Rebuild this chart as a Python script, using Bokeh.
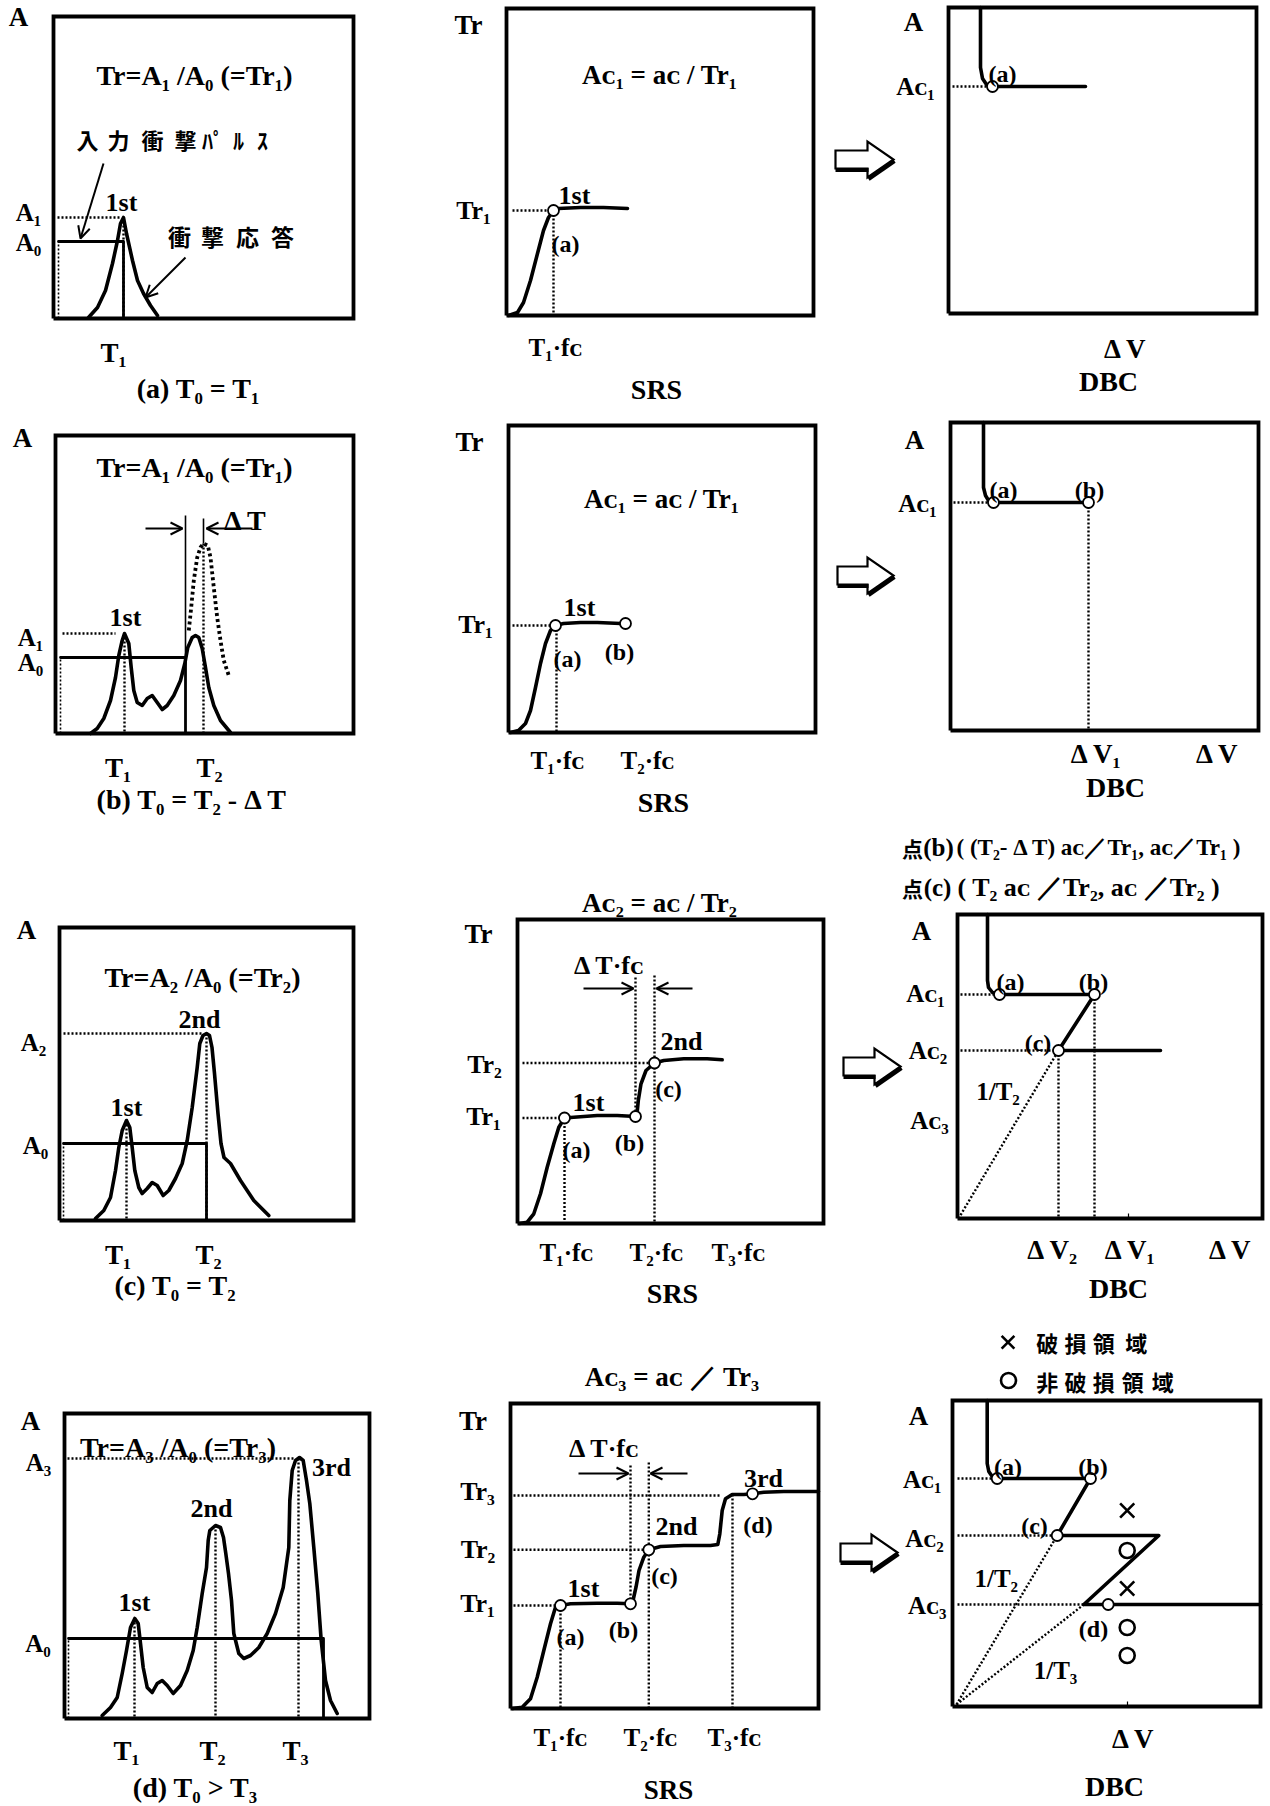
from bokeh.plotting import figure
from bokeh.layouts import column, row
from bokeh.models import Range1d, Arrow, OpenHead
from bokeh.core.properties import value
from bokeh.embed import file_html
from bokeh.resources import INLINE

SERIF = "Liberation Serif, DejaVu Serif, serif"
GOTHIC = "Noto Sans CJK JP"

# ------------------------------------------------------------------
# Curve data.  Each panel has its own units: x = time / frequency /
# velocity change, y = acceleration / transmissibility, both counted
# from the lower-left corner of that panel's frame.
# ------------------------------------------------------------------

# (a) T0 = T1
a_t = [35, 44, 52, 59, 64, 67, 70, 73, 79, 84, 90, 97, 104]
a_y = [1, 11, 28, 55, 78, 95, 101, 85, 58, 38, 25, 13, 3]
a_start, a_T1, a_A0, a_A1 = 5, 70, 77, 101

# (b) T0 = T2 - dT
b_t = [35, 41.7, 48.3, 55, 60, 63.3, 66.7, 69, 73.3, 75.7, 78.3, 81.7, 86.7, 91.7,
       96.7, 101.7, 106.7, 111.7, 118.3, 125, 129.3, 132.3, 136.7, 140, 143.3, 146.7,
       150, 153.3, 158.3, 165, 175]
b_y = [0, 5, 15, 33, 56, 78, 93, 100, 90, 66, 43, 31, 28, 35, 38, 31, 24, 28, 38, 53,
       70, 86, 96, 98, 96, 85, 66, 46, 28, 13, 1]
b_shift_t = [133.3, 135.7, 138.3, 141.7, 145, 148, 152.3, 155, 158.3, 161.7, 165, 168.3, 173.3]
b_shift_y = [103, 126, 153, 176, 186, 190, 188, 176, 146, 116, 93, 73, 58]
b_start, b_T1, b_T2, b_T0, b_A0, b_A1 = 5, 69, 148, 130, 76, 100

# (c) T0 = T2
c_t = [36, 44.3, 51, 56, 59.3, 62.7, 67, 70.3, 72.7, 75.3, 79.3, 82.7, 87.7, 92.7, 97.7,
       103.7, 109.3, 116, 122.7, 127.7, 132.7, 137.7, 140.3, 143.5, 147, 150, 152.5, 155,
       158.5, 161.5, 164.5, 171, 181, 194.3, 209.3]
c_y = [2, 10, 23, 50, 73, 90, 100, 93, 73, 50, 33, 27, 32, 38, 35, 25, 30, 42, 57, 80,
       113, 153, 177, 185, 187, 185, 173, 147, 107, 77, 63, 57, 40, 20, 5]
c_start, c_T1, c_T2, c_A0, c_A2 = 4, 67, 147, 77, 187

# (d) T0 > T3
d_t = [37.7, 46, 52.7, 57.7, 62, 66, 70.3, 73.7, 76, 78.7, 82.7, 87.7, 92.7, 97.7, 102.7,
       108.7, 116, 122.7, 128.7, 132.7, 137.7, 142, 143.7, 145.3, 151, 156, 159, 161.3,
       164, 167, 169.3, 174.3, 179.3, 186, 194.3, 202.7, 211, 218.7, 224.3, 225.3, 227.7,
       231, 235, 238.7, 242, 245.3, 249.3, 253.3, 256.7, 261, 266, 272.7]
d_y = [3, 11, 21, 45, 68, 91, 100, 95, 75, 51, 31, 26, 35, 38, 33, 25, 33, 48, 68, 91,
       125, 151, 178, 188, 193, 191, 181, 165, 145, 118, 85, 65, 60, 63, 71, 85, 105, 131,
       171, 218, 248, 258, 261, 258, 238, 215, 171, 125, 78, 38, 18, 5]
d_start, d_end, d_T1, d_T2, d_T3, d_A0, d_A3 = 4, 259, 70, 151, 234, 80, 260

# SRS curves (frequency, transmissibility)
s1_f = [2, 11, 17, 24, 31, 37, 42, 47, 52, 74, 97, 121]
s1_tr = [0, 3, 13, 35, 62, 85, 98, 105, 107, 108, 108, 107]
s1_pts_f, s1_pts_tr = [47], [105]

s2_f = [2, 10, 17, 22, 27, 32, 37, 42, 47, 55, 72, 89, 112, 117]
s2_tr = [0, 2, 9, 22, 45, 69, 89, 102, 107, 109, 110, 110, 109, 109]
s2_pts_f, s2_pts_tr = [47, 117], [107, 109]

s3_f = [2, 9.7, 16.3, 23, 29.7, 36.3, 41.3, 47, 56.3, 79.7, 99.7, 118, 119.5, 120.8,
        123.5, 128.5, 137, 146.3, 166.3, 189.7, 204.7]
s3_tr = [0, 1.3, 9.7, 29.7, 56.3, 79.7, 96.3, 105.5, 106.3, 108, 108, 107, 109.7, 123,
         139.7, 153, 160.5, 163, 164.7, 164.7, 163.7]
s3_pts_f, s3_pts_tr = [47, 118, 137], [105.5, 107, 160.5]

s4_f = [2, 11.7, 20, 26.7, 33.3, 40, 45, 50, 60, 86.7, 106.7, 120, 122.5, 125.5, 128.5,
        133.3, 138.3, 150, 173.3, 200, 207.3, 209.3, 211.7, 215, 221.7, 233.3, 242, 253.3,
        273.3, 308]
s4_tr = [0, 1.3, 9.7, 31.3, 58, 84.7, 101.3, 103, 104.7, 105.3, 105.3, 104.7, 108, 121.3,
         138, 151.3, 158.7, 162, 163, 163, 164, 174.7, 198, 209.7, 214, 214, 214.7, 216.3,
         217, 217]
s4_pts_f, s4_pts_tr = [50, 120, 138.3, 242], [103, 104.7, 158.7, 214.7]

# DBC curves (velocity change, acceleration)
g1_v = [32, 32, 34, 38, 44, 52, 137]
g1_a = [306, 246, 235, 229, 227, 227, 227]
g1_pts_v, g1_pts_a = [44], [227]

g2_v = [33, 33, 35, 38, 43, 138]
g2_a = [308, 243, 235, 230, 228, 228]
g2_pts_v, g2_pts_a = [43, 138], [228, 228]

g3_v = [30, 30, 31, 35, 42, 137, 101, 203]
g3_a = [304, 238, 231, 226, 224, 224, 168, 168]
g3_pts_v, g3_pts_a = [42, 137, 101], [224, 224, 168]

g4_v = [34.7, 34.7, 36.3, 39.7, 44.7, 138, 104.7, 206.3, 131.3, 308]
g4_a = [306, 243, 235, 230, 228, 228, 171, 171, 102, 102]
g4_pts_v, g4_pts_a = [44.7, 138, 104.7, 155.7], [228, 228, 171, 102]
g4_fail_v, g4_fail_a = [174.7, 174.7], [196, 118]
g4_safe_v, g4_safe_a = [174.7, 174.7, 174.7], [156, 79, 51]

# ------------------------------------------------------------------
# Page layout: cell edges and frame rectangle of every panel
# ------------------------------------------------------------------
COL_EDGES = [0, 420, 830, 1270]
ROW_EDGES = [0, 410, 825, 1315, 1806]
FRAMES = {
    (0, 0): (53, 16, 353, 318), (0, 1): (506, 8, 813, 315), (0, 2): (948, 7, 1256, 313),
    (1, 0): (55, 435, 353, 733), (1, 1): (508, 425, 815, 732), (1, 2): (950, 422, 1258, 730),
    (2, 0): (59, 927, 353, 1220), (2, 1): (517, 919, 823, 1223), (2, 2): (957, 914, 1262, 1218),
    (3, 0): (64, 1413, 369, 1718), (3, 1): (510, 1403, 818, 1708), (3, 2): (952, 1400, 1260, 1706),
}


def make_panel(r, c):
    cx0, cx1 = COL_EDGES[c], COL_EDGES[c + 1]
    cy0, cy1 = ROW_EDGES[r], ROW_EDGES[r + 1]
    bx0, by0, bx1, by1 = FRAMES[(r, c)]
    p = figure(width=cx1 - cx0, height=cy1 - cy0,
               x_range=Range1d(cx0 - bx0, cx1 - bx0),
               y_range=Range1d(by1 - cy1, by1 - cy0),
               output_backend="svg", toolbar_location=None,
               x_axis_type=None, y_axis_type=None, min_border=0,
               outline_line_color=None, background_fill_color="white",
               border_fill_color="white")
    w, h = bx1 - bx0, by1 - by0
    p.line([0, w, w, 0, 0], [0, 0, h, h, 0], line_width=3.8, color="black",
           line_join="miter")
    return p, w, h


def txt(p, u, v, s, size=27, font=SERIF, bold=True, align="center"):
    p.text(x=[u], y=[v], text=[s], text_font=value(font),
           text_font_size=f"{size}px", text_align=align, text_baseline="middle",
           text_font_style="bold" if bold else "normal", text_color="black")


def chars(p, us, v, s, size=22):
    p.text(x=us, y=[v] * len(us), text=list(s), text_font=value(GOTHIC),
           text_font_size=f"{size}px", text_align="center", text_baseline="middle",
           text_font_style="bold", text_color="black")


def curve(p, xs, ys, w=3.6):
    p.line(xs, ys, line_width=w, color="black", line_join="round", line_cap="round")


def dots(p, xs, ys, w=2.4):
    p.line(xs, ys, line_width=w, color="black", line_dash="2 2")


def rings(p, xs, ys, size=11):
    p.scatter(xs, ys, marker="circle", size=size, fill_color="white",
              line_color="black", line_width=1.8)


def arrow(p, u0, v0, u1, v1):
    p.add_layout(Arrow(end=OpenHead(size=12, line_width=2, line_color="black"),
                       x_start=u0, y_start=v0, x_end=u1, y_end=v1,
                       line_width=2, line_color="black"))


def block_arrow(p, u0, u1, vc):
    uh = u1 - 26
    hb, hh = 9, 18
    xs = [u0, uh, uh, u1, uh, uh, u0]
    ys = [vc + hb, vc + hb, vc + hh, vc, vc - hh, vc - hb, vc - hb]
    p.patch(xs, ys, fill_color="white", line_color="black", line_width=2.2,
            line_join="miter")
    p.line([u0, uh + 1], [vc - hb - 1.5, vc - hb - 1.5], line_width=4, color="black")
    p.line([uh + 1, u1 + 1], [vc - hh - 1.5, vc - 1.5], line_width=4, color="black")


def pulse(p, start, end, level):
    dots(p, [start, start], [0, level], w=1.6)
    curve(p, [start, end, end], [level, level, 0], w=2.8)


# ------------------------------- row 1 -------------------------------
pa, w, h = make_panel(0, 0)
pulse(pa, a_start, a_T1, a_A0)
curve(pa, a_t, a_y)
dots(pa, [4, a_T1 - 3], [a_A1, a_A1])
dots(pa, [a_T1, a_T1], [a_A1, 0])
arrow(pa, 50, 155, 27, 80)
arrow(pa, 132, 61, 92, 21)
txt(pa, -35, 302, "A")
txt(pa, -25, 106, "A₁", 25)
txt(pa, -25, 76, "A₀", 25)
txt(pa, 68, 116, "1st", 26)
txt(pa, 141, 243, "Tr=A₁ /A₀ (=Tr₁)", 28)
chars(pa, [34, 65, 99, 132, 154, 165, 185, 209], 180, "入力衝撃ﾊﾟﾙｽ", 22)
chars(pa, [126, 159, 194, 229], 83, "衝撃応答", 23)
txt(pa, 60, -34, "T₁")
txt(pa, 152, -70, "(a)  T₀ =  T₁", 28)

ps1, w, h = make_panel(0, 1)
curve(ps1, s1_f, s1_tr)
dots(ps1, [6, s1_pts_f[0]], [s1_pts_tr[0]] * 2)
dots(ps1, [s1_pts_f[0]] * 2, [s1_pts_tr[0], 0])
rings(ps1, s1_pts_f, s1_pts_tr)
txt(ps1, -38, 291, "Tr")
txt(ps1, -33, 105, "Tr₁", 26)
txt(ps1, 68, 120, "1st", 26)
txt(ps1, 59, 72, "(a)", 24)
txt(ps1, 160, 241, "Aᴄ₁ =  aᴄ /  Tr₁", 27)
txt(ps1, 49, -32, "T₁·fᴄ", 25)
txt(ps1, 150, -74, "SRS", 28)

pg1, w, h = make_panel(0, 2)
block_arrow(pg1, -113, -55, 154)
curve(pg1, g1_v, g1_a)
dots(pg1, [4, 40], [g1_pts_a[0]] * 2)
rings(pg1, g1_pts_v, g1_pts_a)
txt(pg1, -35, 292, "A")
txt(pg1, -33, 227, "Aᴄ₁", 25)
txt(pg1, 54, 240, "(a)", 24)
txt(pg1, 177, -35, "Δ V")
txt(pg1, 160, -68, "DBC", 28)

# ------------------------------- row 2 -------------------------------
pb, w, h = make_panel(1, 0)
pulse(pb, b_start, b_T0, b_A0)
pb.line([b_T0, b_T0], [b_A0, 218], line_width=1.6, color="black")
curve(pb, b_t, b_y)
pb.line(b_shift_t, b_shift_y, line_width=3.8, color="black", line_dash="3 3")
dots(pb, [7, 60], [b_A1, b_A1])
dots(pb, [b_T1, b_T1], [b_A1, 0])
dots(pb, [b_T2, b_T2], [190, 0])
pb.line([b_T2, b_T2], [215, 190], line_width=1.6, color="black")
arrow(pb, 90, 205, 127, 205)
arrow(pb, 197, 205, 151, 205)
txt(pb, -33, 296, "A")
txt(pb, 139, 266, "Tr=A₁ /A₀ (=Tr₁)", 28)
txt(pb, 190, 213, "Δ T", 28)
txt(pb, 70, 116, "1st", 26)
txt(pb, -25, 96, "A₁", 25)
txt(pb, -25, 71, "A₀", 25)
txt(pb, 62.5, -34, "T₁")
txt(pb, 154, -34, "T₂")
txt(pb, 144, -66, "(b)  T₀ =  T₂ - Δ T", 28)

ps2, w, h = make_panel(1, 1)
curve(ps2, s2_f, s2_tr)
dots(ps2, [4, s2_pts_f[0]], [s2_pts_tr[0]] * 2)
dots(ps2, [s2_pts_f[0] + 1] * 2, [s2_pts_tr[0], 0])
rings(ps2, s2_pts_f, s2_pts_tr)
txt(ps2, -39, 291, "Tr")
txt(ps2, -33, 108, "Tr₁", 26)
txt(ps2, 71, 125, "1st", 26)
txt(ps2, 59, 74, "(a)", 24)
txt(ps2, 111, 81, "(b)", 24)
txt(ps2, 160, 234, "Aᴄ₁ =  aᴄ /  Tr₁", 27)
txt(ps2, 49, -28, "T₁·fᴄ", 25)
txt(ps2, 139, -28, "T₂·fᴄ", 25)
txt(ps2, 155, -70, "SRS", 28)

pg2, w, h = make_panel(1, 2)
block_arrow(pg2, -113, -57, 155)
curve(pg2, g2_v, g2_a)
dots(pg2, [3, 40], [g2_pts_a[0]] * 2)
dots(pg2, [g2_pts_v[1]] * 2, [g2_pts_a[1], 0])
rings(pg2, g2_pts_v, g2_pts_a)
txt(pg2, -36, 291, "A")
txt(pg2, -33, 227, "Aᴄ₁", 25)
txt(pg2, 53, 241, "(a)", 24)
txt(pg2, 139, 241, "(b)", 24)
txt(pg2, 146, -23, "Δ V₁")
txt(pg2, 267, -23, "Δ V")
txt(pg2, 165, -57, "DBC", 28)

# ------------------------------- row 3 -------------------------------
pc, w, h = make_panel(2, 0)
pulse(pc, c_start, c_T2, c_A0)
curve(pc, c_t, c_y)
dots(pc, [4, c_T2 - 4], [c_A2, c_A2])
dots(pc, [c_T1, c_T1], [100, 0])
dots(pc, [c_T2, c_T2], [c_A2, 0])
txt(pc, -33, 291, "A")
txt(pc, 143, 243, "Tr=A₂ /A₀ (=Tr₂)", 28)
txt(pc, 140, 201, "2nd", 26)
txt(pc, -26, 178, "A₂", 25)
txt(pc, 67, 113, "1st", 26)
txt(pc, -24, 75, "A₀", 25)
txt(pc, 58.5, -34, "T₁")
txt(pc, 149, -34, "T₂")
txt(pc, 123, -65, "(c)  T₀ =  T₂", 28)

ps3, w, h = make_panel(2, 1)
curve(ps3, s3_f, s3_tr)
dots(ps3, [5, s3_pts_f[0]], [s3_pts_tr[0]] * 2)
dots(ps3, [5, s3_pts_f[2]], [s3_pts_tr[2]] * 2)
dots(ps3, [s3_pts_f[0]] * 2, [s3_pts_tr[0], 0])
dots(ps3, [s3_pts_f[1]] * 2, [246, s3_pts_tr[1]])
dots(ps3, [s3_pts_f[2]] * 2, [248, 0])
rings(ps3, s3_pts_f, s3_pts_tr)
arrow(ps3, 66, 235, 116, 235)
arrow(ps3, 175, 235, 139, 235)
txt(ps3, 149, 320.5, "Aᴄ₂ =  aᴄ /  Tr₂", 27)
txt(ps3, -39, 290, "Tr")
txt(ps3, 92, 258, "Δ T·fᴄ", 26)
txt(ps3, 164, 182, "2nd", 26)
txt(ps3, -33, 159, "Tr₂", 26)
txt(ps3, 71, 121, "1st", 26)
txt(ps3, -34, 107, "Tr₁", 26)
txt(ps3, 151, 135, "(c)", 24)
txt(ps3, 59, 74, "(a)", 24)
txt(ps3, 112, 81, "(b)", 24)
txt(ps3, 49, -29, "T₁·fᴄ", 25)
txt(ps3, 139, -29, "T₂·fᴄ", 25)
txt(ps3, 221, -29, "T₃·fᴄ", 25)
txt(ps3, 155, -70, "SRS", 28)

pg3, w, h = make_panel(2, 2)
block_arrow(pg3, -114, -57, 152)
curve(pg3, g3_v, g3_a)
dots(pg3, [3, 38], [g3_pts_a[0]] * 2)
dots(pg3, [3, g3_pts_v[2]], [g3_pts_a[2]] * 2)
dots(pg3, [g3_pts_v[2]] * 2, [g3_pts_a[2], 0])
dots(pg3, [g3_pts_v[1]] * 2, [g3_pts_a[1], 0])
dots(pg3, [1, g3_pts_v[2]], [0, g3_pts_a[2]])
pg3.line([171, 171], [0, 5], line_width=1.2, color="black")
rings(pg3, g3_pts_v, g3_pts_a)
chars(pg3, [-45], 371, "点", 21)
chars(pg3, [-45], 331, "点", 21)
txt(pg3, -19, 371, "(b)", 25)
txt(pg3, -20, 331, "(c)", 25)
txt(pg3, -1, 371, "( (T₂- Δ T) aᴄ／Tr₁, aᴄ／Tr₁ )", 23, align="left")
txt(pg3, 0, 331, "(  T₂ aᴄ ／Tr₂,  aᴄ ／Tr₂ )", 26, align="left")
txt(pg3, -36, 288, "A")
txt(pg3, -32, 225, "Aᴄ₁", 25)
txt(pg3, 53, 237, "(a)", 24)
txt(pg3, 136, 237, "(b)", 24)
txt(pg3, 80.5, 176, "(c)", 24)
txt(pg3, -29.5, 168, "Aᴄ₂", 25)
txt(pg3, 40.5, 127, "1/T₂", 25)
txt(pg3, -28, 98.5, "Aᴄ₃", 25)
txt(pg3, 95.5, -31, "Δ V₂")
txt(pg3, 173, -31, "Δ V₁")
txt(pg3, 273, -31, "Δ V")
txt(pg3, 161, -70, "DBC", 28)

# ------------------------------- row 4 -------------------------------
pd, w, h = make_panel(3, 0)
pulse(pd, d_start, d_end, d_A0)
curve(pd, d_t, d_y)
dots(pd, [3, d_T3 - 3], [d_A3, d_A3])
dots(pd, [d_T1, d_T1], [100, 0])
dots(pd, [d_T2, d_T2], [193, 0])
dots(pd, [d_T3, d_T3], [d_A3, 0])
txt(pd, -34, 298, "A")
txt(pd, 113.5, 271, "Tr=A₃ /A₀ (=Tr₃)", 28)
txt(pd, -26, 256, "A₃", 25)
txt(pd, 267, 251, "3rd", 26)
txt(pd, 147, 210, "2nd", 26)
txt(pd, 70, 116, "1st", 26)
txt(pd, -26.5, 75, "A₀", 25)
txt(pd, 62, -32, "T₁")
txt(pd, 148, -32, "T₂")
txt(pd, 231, -32, "T₃")
txt(pd, 138, -69, "(d)  T₀ >  T₃", 28)

ps4, w, h = make_panel(3, 1)
curve(ps4, s4_f, s4_tr)
dots(ps4, [3, s4_pts_f[0]], [s4_pts_tr[0]] * 2)
dots(ps4, [3, s4_pts_f[2]], [s4_pts_tr[2]] * 2)
dots(ps4, [3, 209], [213, 213])
dots(ps4, [s4_pts_f[0]] * 2, [s4_pts_tr[0], 0])
dots(ps4, [s4_pts_f[1]] * 2, [243, s4_pts_tr[1]])
dots(ps4, [s4_pts_f[2]] * 2, [246, 0])
dots(ps4, [222, 222], [214, 0])
rings(ps4, s4_pts_f, s4_pts_tr)
arrow(ps4, 68, 235, 118, 235)
arrow(ps4, 177, 235, 140, 235)
txt(ps4, 165, 332, "Aᴄ₃ =  aᴄ ／ Tr₃", 27)
txt(ps4, -37.5, 288, "Tr")
txt(ps4, 94, 260, "Δ T·fᴄ", 26)
txt(ps4, 253, 230.5, "3rd", 26)
txt(ps4, -33, 217, "Tr₃", 26)
txt(ps4, 166, 182, "2nd", 26)
txt(ps4, 247.5, 184, "(d)", 24)
txt(ps4, -32.5, 159, "Tr₂", 26)
txt(ps4, 154, 133, "(c)", 24)
txt(ps4, 73, 120, "1st", 26)
txt(ps4, -33, 105, "Tr₁", 26)
txt(ps4, 60, 72, "(a)", 24)
txt(ps4, 113, 79, "(b)", 24)
txt(ps4, 50, -29, "T₁·fᴄ", 25)
txt(ps4, 140, -29, "T₂·fᴄ", 25)
txt(ps4, 224, -29, "T₃·fᴄ", 25)
txt(ps4, 158, -81, "SRS", 27)

pg4, w, h = make_panel(3, 2)
block_arrow(pg4, -112, -55, 154)
curve(pg4, g4_v, g4_a)
dots(pg4, [5, 40], [g4_pts_a[0]] * 2)
dots(pg4, [5, g4_pts_v[2]], [g4_pts_a[2]] * 2)
dots(pg4, [5, 131.3], [102, 102])
dots(pg4, [4, g4_pts_v[2]], [2, g4_pts_a[2]])
dots(pg4, [4, 131.3], [2, 102])
pg4.line([175, 175], [0, 5], line_width=1.2, color="black")
rings(pg4, g4_pts_v, g4_pts_a)
pg4.scatter(g4_fail_v, g4_fail_a, marker="x", size=20, line_width=2.6, line_color="black")
pg4.scatter(g4_safe_v, g4_safe_a, marker="circle", size=15, line_width=2.6,
            line_color="black", fill_color=None)
pg4.scatter([55.5], [364.3], marker="x", size=18, line_width=2.6, line_color="black")
pg4.scatter([56], [326], marker="circle", size=15, line_width=2.6,
            line_color="black", fill_color=None)
chars(pg4, [94.7, 123, 151.3, 183.7], 364.3, "破損領域", 22)
chars(pg4, [94.7, 123, 151.3, 180.3, 210.3], 326, "非破損領域", 22)
txt(pg4, -34, 291, "A")
txt(pg4, -30.3, 227, "Aᴄ₁", 25)
txt(pg4, 55.5, 239.3, "(a)", 24)
txt(pg4, 140.5, 239.3, "(b)", 24)
txt(pg4, 82, 180.2, "(c)", 24)
txt(pg4, -28, 168, "Aᴄ₂", 25)
txt(pg4, 43.8, 128, "1/T₂", 25)
txt(pg4, -25.3, 101, "Aᴄ₃", 25)
txt(pg4, 141, 78, "(d)", 24)
txt(pg4, 103, 36, "1/T₃", 25)
txt(pg4, 181, -32, "Δ V")
txt(pg4, 162, -80, "DBC", 28)

layout = column(
    row(pa, ps1, pg1),
    row(pb, ps2, pg2),
    row(pc, ps3, pg3),
    row(pd, ps4, pg4),
)

open("out.html", "w").write(file_html(layout, INLINE))
